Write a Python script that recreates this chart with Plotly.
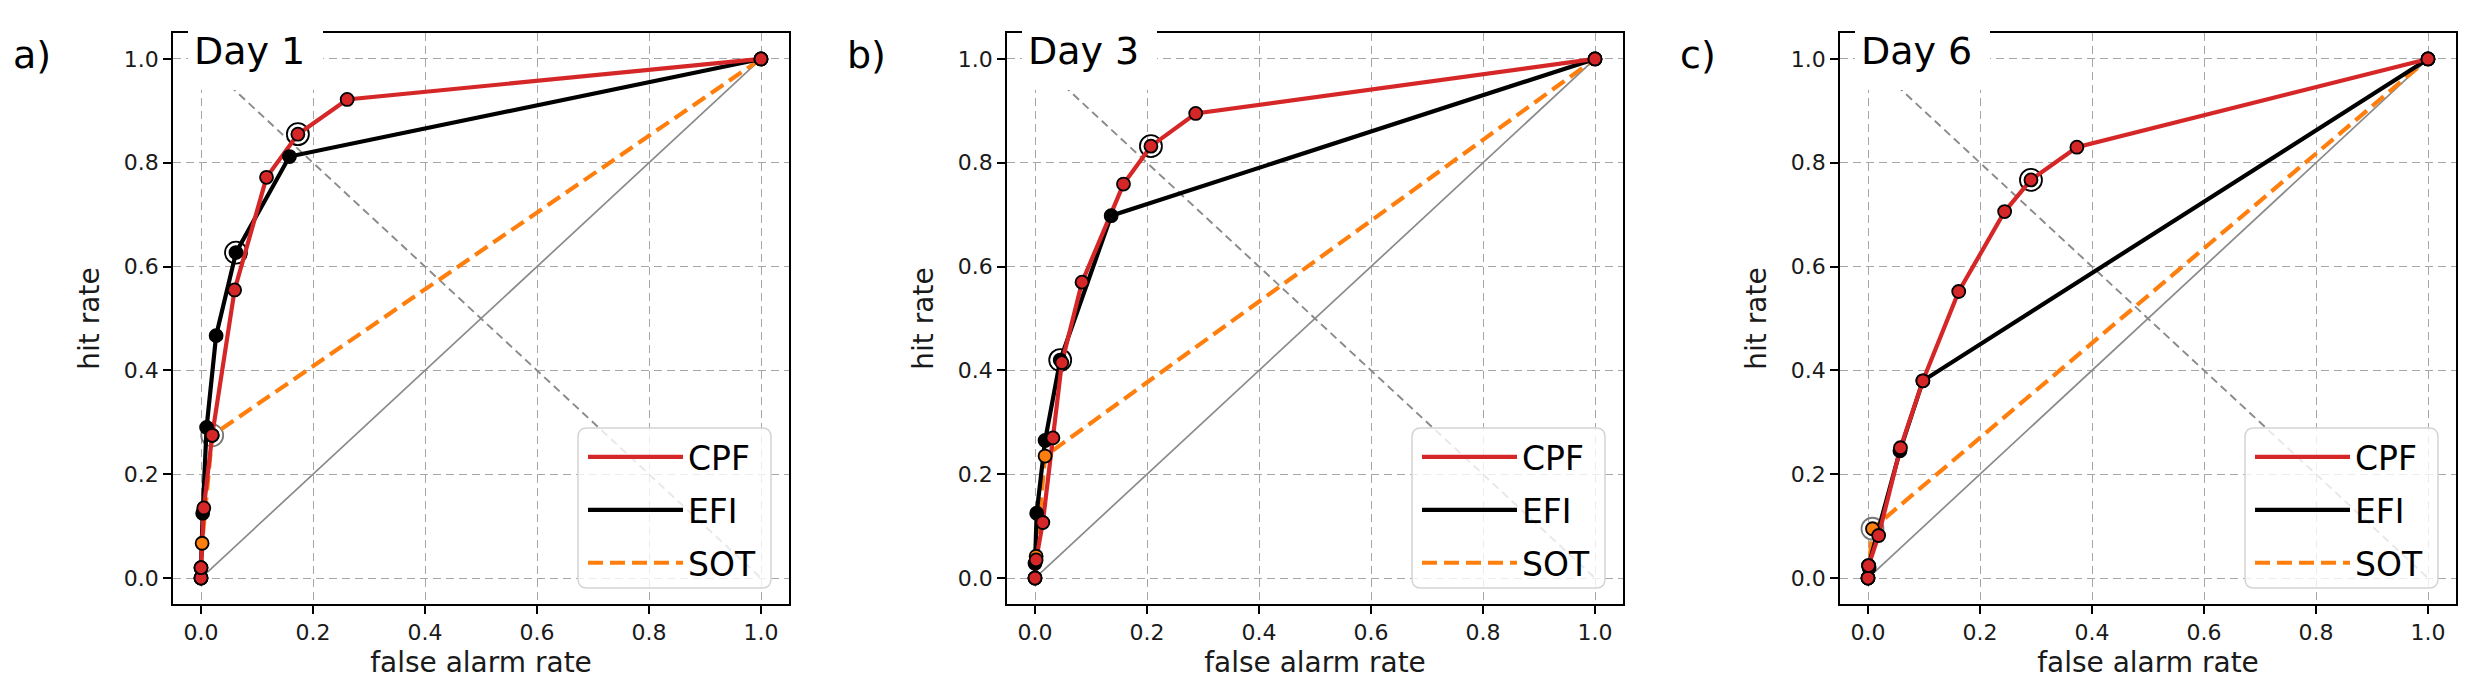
import plotly.graph_objects as go

# ---------------- data ----------------
panel_labels = ["a)", "b)", "c)"]
day_titles = ["Day 1", "Day 3", "Day 6"]
series_names = ["CPF", "EFI", "SOT"]
tick_vals = [0.0, 0.2, 0.4, 0.6, 0.8, 1.0]
tick_text = ["0.0", "0.2", "0.4", "0.6", "0.8", "1.0"]
x_title = "false alarm rate"
y_title = "hit rate"

# Day 1
cpf_d1_far = [0.0, 0.0, 0.005, 0.02, 0.06, 0.117, 0.173, 0.261, 1.0]
cpf_d1_hit = [0.0, 0.02, 0.135, 0.275, 0.555, 0.772, 0.855, 0.922, 1.0]
efi_d1_far = [0.0, 0.0, 0.003, 0.01, 0.027, 0.0625, 0.158, 1.0]
efi_d1_hit = [0.0, 0.02, 0.125, 0.29, 0.467, 0.627, 0.812, 1.0]
sot_d1_far = [0.0, 0.002, 0.02, 1.0]
sot_d1_hit = [0.0, 0.067, 0.275, 1.0]
best_d1 = [6, 5, 2]  # index of highlighted point for CPF, EFI, SOT

# Day 3
cpf_d3_far = [0.0, 0.002, 0.014, 0.032, 0.048, 0.084, 0.158, 0.207, 0.287, 1.0]
cpf_d3_hit = [0.0, 0.035, 0.107, 0.27, 0.415, 0.57, 0.759, 0.832, 0.895, 1.0]
efi_d3_far = [0.0, 0.0, 0.003, 0.018, 0.045, 0.136, 1.0]
efi_d3_hit = [0.0, 0.028, 0.125, 0.265, 0.42, 0.698, 1.0]
sot_d3_far = [0.0, 0.002, 0.018, 1.0]
sot_d3_hit = [0.0, 0.042, 0.235, 1.0]
best_d3 = [7, 4, None]

# Day 6
cpf_d6_far = [0.0, 0.001, 0.019, 0.058, 0.098, 0.162, 0.244, 0.291, 0.373, 1.0]
cpf_d6_hit = [0.0, 0.024, 0.082, 0.251, 0.38, 0.552, 0.706, 0.767, 0.830, 1.0]
efi_d6_far = [0.0, 0.001, 0.057, 0.098, 1.0]
efi_d6_hit = [0.0, 0.024, 0.245, 0.38, 1.0]
sot_d6_far = [0.0, 0.002, 0.008, 1.0]
sot_d6_hit = [0.0, 0.02, 0.095, 1.0]
best_d6 = [7, None, 2]

# no-skill diagonal and its perpendicular
diag_x = [0.0, 1.0]
diag_y = [0.0, 1.0]
anti_x = [0.0, 1.0]
anti_y = [1.0, 0.0]

panels = [
    [(cpf_d1_far, cpf_d1_hit), (efi_d1_far, efi_d1_hit), (sot_d1_far, sot_d1_hit), best_d1],
    [(cpf_d3_far, cpf_d3_hit), (efi_d3_far, efi_d3_hit), (sot_d3_far, sot_d3_hit), best_d3],
    [(cpf_d6_far, cpf_d6_hit), (efi_d6_far, efi_d6_hit), (sot_d6_far, sot_d6_hit), best_d6],
]

# ---------------- styling ----------------
W, H = 2476, 696
FONT = "DejaVu Sans"
colors = ["#d62728", "#000000", "#ff7f0e"]
ring_colors = ["black", "black", "#777777"]
dashes = ["solid", "solid", "15px,7px"]
panel_left = [165, 999, 1832]
panel_w = 616
top_px, bottom_px = 25, 596
legend_box_left = [570, 1404, 2237]
legend_box_w, legend_box_top, legend_box_bottom = 193, 420, 580


def px_x(p):
    return p / W


def px_y(p):
    return 1 - p / H


def rounded_rect(x0, y0, x1, y1, r):
    # pixel coords -> paper path with rounded corners
    X = lambda v: f"{px_x(v):.6f}"
    Y = lambda v: f"{px_y(v):.6f}"
    return (f"M {X(x0 + r)} {Y(y0)} L {X(x1 - r)} {Y(y0)} Q {X(x1)} {Y(y0)} {X(x1)} {Y(y0 + r)} "
            f"L {X(x1)} {Y(y1 - r)} Q {X(x1)} {Y(y1)} {X(x1 - r)} {Y(y1)} "
            f"L {X(x0 + r)} {Y(y1)} Q {X(x0)} {Y(y1)} {X(x0)} {Y(y1 - r)} "
            f"L {X(x0)} {Y(y0 + r)} Q {X(x0)} {Y(y0)} {X(x0 + r)} {Y(y0)} Z")


fig = go.Figure()
layout = {}
annotations = []
shapes = []

for i in range(3):
    sfx = "" if i == 0 else str(i + 1)
    xa, ya = "x" + sfx, "y" + sfx
    leg = "legend" + sfx
    curves = panels[i][:3]
    best = panels[i][3]

    fig.add_trace(go.Scatter(x=diag_x, y=diag_y, mode="lines",
                             line=dict(color="#8a8a8a", width=1.7),
                             xaxis=xa, yaxis=ya, showlegend=False, hoverinfo="skip"))
    fig.add_trace(go.Scatter(x=anti_x, y=anti_y, mode="lines",
                             line=dict(color="#8a8a8a", width=1.9, dash="8px,5px"),
                             xaxis=xa, yaxis=ya, showlegend=False, hoverinfo="skip"))

    # highlighted points (rings)
    for k in range(3):
        if best[k] is None:
            continue
        fx, fy = curves[k]
        fig.add_trace(go.Scatter(x=[fx[best[k]]], y=[fy[best[k]]], mode="markers",
                                 marker=dict(symbol="circle-open", size=22, color=ring_colors[k],
                                             line=dict(color=ring_colors[k], width=1.8)),
                                 xaxis=xa, yaxis=ya, showlegend=False))

    # lines (SOT below, CPF on top)
    for k in [2, 1, 0]:
        fx, fy = curves[k]
        fig.add_trace(go.Scatter(x=fx, y=fy, mode="lines", name=series_names[k],
                                 line=dict(color=colors[k], width=4.2, dash=dashes[k]),
                                 xaxis=xa, yaxis=ya, legend=leg, legendgroup=f"g{i}{k}",
                                 legendrank=k + 1, showlegend=True))
    # markers
    for k in [2, 1, 0]:
        fx, fy = curves[k]
        fig.add_trace(go.Scatter(x=fx, y=fy, mode="markers",
                                 marker=dict(color=colors[k], size=13,
                                             line=dict(color="black", width=1.8)),
                                 xaxis=xa, yaxis=ya, showlegend=False))

    dom_x = [px_x(panel_left[i]), px_x(panel_left[i] + panel_w)]
    dom_y = [px_y(bottom_px), px_y(top_px)]
    axis_common = dict(range=[-0.05, 1.05], tickvals=tick_vals, ticktext=tick_text,
                       showgrid=True, gridcolor="#a6a6a6", gridwidth=1.4, griddash="8px,5px",
                       zeroline=False, showline=True, linecolor="black", linewidth=1.7,
                       mirror=True, ticks="outside", ticklen=8, tickwidth=1.7,
                       tickcolor="black",
                       tickfont=dict(family=FONT, size=22, color="#1a1a1a"))
    layout["xaxis" + sfx] = dict(axis_common, domain=dom_x, anchor=ya,
                                 title=dict(text=x_title, standoff=8,
                                            font=dict(family=FONT, size=28, color="#1a1a1a")))
    layout["yaxis" + sfx] = dict(axis_common, domain=dom_y, anchor=xa,
                                 title=dict(text=y_title, standoff=16,
                                            font=dict(family=FONT, size=28, color="#1a1a1a")))

    # legend frame (rounded, semi-transparent like matplotlib) + native legend entries
    bl = legend_box_left[i]
    shapes.append(dict(type="path", xref="paper", yref="paper", layer="above",
                       path=rounded_rect(bl, legend_box_top, bl + legend_box_w,
                                         legend_box_bottom, 9),
                       fillcolor="rgba(255,255,255,0.8)",
                       line=dict(color="#d4d4d4", width=1.5)))
    layout[leg] = dict(x=px_x(bl + 5), xanchor="left",
                       y=px_y(legend_box_top + 1), yanchor="top",
                       bgcolor="rgba(0,0,0,0)", borderwidth=0,
                       font=dict(family=FONT, size=33, color="black"),
                       itemwidth=95, tracegroupgap=7, traceorder="grouped")

    # white box behind the day title (covers top spine like matplotlib anchored text)
    shapes.append(dict(type="rect", xref="paper", yref="paper", layer="above",
                       x0=px_x(panel_left[i] + 15), x1=px_x(panel_left[i] + 150),
                       y0=px_y(82), y1=px_y(8), fillcolor="white", line=dict(width=0)))
    annotations.append(dict(text=day_titles[i], xref="paper", yref="paper",
                            x=px_x(panel_left[i] + 19), y=px_y(43), xanchor="left",
                            yanchor="middle", showarrow=False,
                            font=dict(family=FONT, size=38, color="black")))
    annotations.append(dict(text=panel_labels[i], xref="paper", yref="paper",
                            x=px_x(panel_left[i] - 162), y=px_y(47), xanchor="left",
                            yanchor="middle", showarrow=False,
                            font=dict(family=FONT, size=38, color="black")))

fig.update_layout(**layout)
fig.update_layout(width=W, height=H, margin=dict(l=0, r=0, t=0, b=0),
                  paper_bgcolor="white", plot_bgcolor="white",
                  annotations=annotations, shapes=shapes,
                  font=dict(family=FONT))
fig.write_html("out.html", config={"displayModeBar": False})
